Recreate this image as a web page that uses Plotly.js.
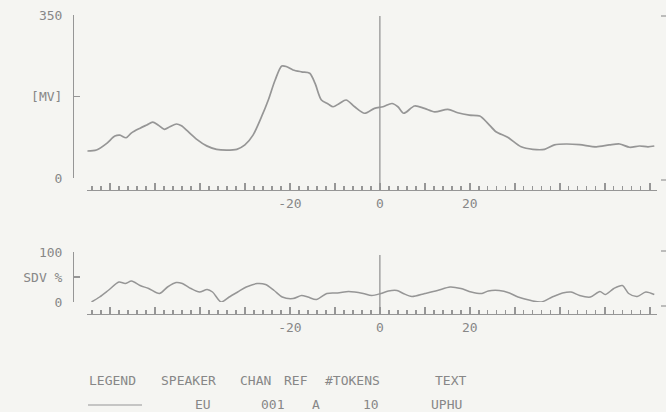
<!DOCTYPE html>
<html>
<head>
<meta charset="utf-8">
<script src="https://cdn.plot.ly/plotly-3.0.1.min.js"></script>
<style>html,body{margin:0;padding:0;background:#f5f5f2;}#chart{width:666px;height:412px;}</style>
</head>
<body>
<div id="chart"></div>
<script>
// Mean amplitude (top panel)
const xMean = [-65.0,-63.0,-60.7,-58.9,-57.8,-56.4,-55.2,-53.3,-51.8,-50.5,-49.3,-47.9,-46.7,-45.2,-44.1,-42.6,-40.7,-38.5,-36.3,-34.1,-31.8,-30.0,-28.2,-26.3,-24.8,-23.3,-21.8,-20.7,-19.3,-17.4,-15.6,-14.4,-13.0,-11.5,-10.4,-9.0,-7.5,-5.6,-3.4,-1.2,0.7,2.7,4.0,5.3,7.7,9.9,12.2,15.1,17.3,19.9,22.2,24.0,25.8,28.4,31.4,34.0,36.6,38.8,41.4,44.4,48.1,51.0,53.3,55.5,57.7,59.6,61.0];
const yMean = [58,60,74.5,90,92,86.5,97,107,114,120,114,104.5,110,116,112,99.4,83,69,61.6,60,61.6,71,92,131.6,167.5,210,240.5,239,232,228,225,203,167.5,159,153,160,167.5,153,139,149.6,153,160,153,139,154.6,149.6,142,147.5,140,135,133,117.4,99.4,87.4,67,61.6,61.6,71,73,71.5,67,71,73,66,68.7,67,68.7];
// Standard deviation % (bottom panel)
const xSdv = [-64.1,-62.3,-60.4,-58.0,-56.6,-55.2,-53.3,-51.4,-49.0,-47.2,-45.3,-43.9,-42.0,-40.1,-38.4,-37.2,-35.3,-33.5,-31.6,-29.7,-27.3,-25.4,-23.5,-21.7,-19.3,-17.4,-16.0,-14.1,-11.8,-9.4,-7.0,-5.6,-3.7,-1.8,0.2,1.9,3.8,5.2,7.1,10.0,12.8,15.6,18.0,20.3,22.7,24.1,26.5,28.8,30.7,33.6,35.9,38.3,40.6,42.5,44.4,46.8,48.9,50.1,52.0,53.9,55.3,57.2,59.1,61.0];
const ySdv = [0,10,23,40,37,42,33,27,17,30,39,37,27,20,25,20,0,10,20,30,37,35,23,10,7,13,10,5,17,18,21,20,17,13,17,22,23,17,11,17,23,30,27,20,17,22,23,18,10,3,0,10,18,20,13,10,21,15,27,33,17,11,20,15];

const topTickVals = [0, 175, 350];
const topTickText = ['0', '[MV]', '350'];
const botTickVals = [0, 50, 100];
const botTickText = ['0', 'SDV %', '100'];
const xTickVals = [-60,-50,-40,-30,-20,-10,0,10,20,30,40,50,60];
const xTickText = ['','','','','-20','','0','','20','','','',''];

const legendHeader = ['LEGEND','SPEAKER','CHAN','REF','#TOKENS','TEXT'];
const legendValues = ['EU','001','A','10','UPHU'];

const W = 666, H = 412;
const ink = '#878787';
const lineCol = '#969696';
const font = {family: 'DejaVu Sans Mono, monospace', size: 13, color: ink};
const px = v => v / W;
const py = v => (H - v) / H;

const xDomain = [px(87), px(657)];
const xRange = [-65.1, 61.6];

function xMinorAxis(pos) {
  return {
    domain: xDomain, range: xRange, anchor: 'free', position: pos,
    showline: true, linecolor: lineCol, linewidth: 1.3,
    showgrid: false, zeroline: false,
    tickmode: 'linear', tick0: 0, dtick: 2,
    ticks: 'inside', ticklen: 4, tickwidth: 1.3, tickcolor: lineCol,
    showticklabels: false, fixedrange: true
  };
}
function xMajorAxis(pos, over) {
  return {
    domain: xDomain, range: xRange, anchor: 'free', position: pos, overlaying: over,
    showline: false, showgrid: false, zeroline: false,
    tickmode: 'array', tickvals: xTickVals, ticktext: xTickText,
    ticks: 'inside', ticklen: 7, tickwidth: 1.5, tickcolor: lineCol,
    tickfont: font, ticklabelstandoff: 4, fixedrange: true
  };
}
function yAxis(dom, rng, vals, text) {
  return {
    domain: dom, range: rng, anchor: 'free', position: px(73),
    showline: true, linecolor: lineCol, linewidth: 1.3,
    showgrid: false, zeroline: false,
    tickmode: 'array', tickvals: vals, ticktext: text,
    ticks: 'inside', ticklen: 6, tickwidth: 1.3, tickcolor: lineCol,
    tickfont: font, ticklabelstandoff: 8, fixedrange: true
  };
}

const traces = [
  {x: xMean, y: yMean, xaxis: 'x', yaxis: 'y', type: 'scatter', mode: 'lines',
   line: {color: lineCol, width: 1.7, shape: 'spline', smoothing: 0.8}, hoverinfo: 'skip', showlegend: false},
  {x: xSdv, y: ySdv, xaxis: 'x2', yaxis: 'y2', type: 'scatter', mode: 'lines',
   line: {color: lineCol, width: 1.5, shape: 'spline', smoothing: 0.8}, hoverinfo: 'skip', showlegend: false},
  {x: [], y: [], xaxis: 'x3', yaxis: 'y', type: 'scatter', mode: 'lines', hoverinfo: 'skip', showlegend: false},
  {x: [], y: [], xaxis: 'x4', yaxis: 'y2', type: 'scatter', mode: 'lines', hoverinfo: 'skip', showlegend: false}
];

const headerX = [87, 159, 238, 282, 323, 433];
const valueX = [193, 259, 310, 361, 429];
const annotations = [];
legendHeader.forEach((t, i) => annotations.push({
  text: t, xref: 'paper', yref: 'paper', x: px(headerX[i]), y: py(380),
  xanchor: 'left', yanchor: 'middle', showarrow: false, font: font
}));
legendValues.forEach((t, i) => annotations.push({
  text: t, xref: 'paper', yref: 'paper', x: px(valueX[i]), y: py(404),
  xanchor: 'left', yanchor: 'middle', showarrow: false, font: font
}));

const shapes = [
  {type: 'line', xref: 'x', yref: 'paper', x0: 0, x1: 0, y0: py(190), y1: py(16), line: {color: lineCol, width: 1.3}},
  {type: 'line', xref: 'x2', yref: 'paper', x0: 0, x1: 0, y0: py(314), y1: py(255), line: {color: lineCol, width: 1.3}},
  {type: 'line', xref: 'paper', yref: 'paper', x0: px(88), x1: px(142), y0: py(405), y1: py(405), line: {color: lineCol, width: 1.2}},
  {type: 'line', xref: 'paper', yref: 'paper', x0: px(661), x1: 1, y0: py(16), y1: py(16), line: {color: lineCol, width: 1.2}},
  {type: 'line', xref: 'paper', yref: 'paper', x0: px(661), x1: 1, y0: py(180), y1: py(180), line: {color: lineCol, width: 1.2}},
  {type: 'line', xref: 'paper', yref: 'paper', x0: px(661), x1: 1, y0: py(251), y1: py(251), line: {color: lineCol, width: 1.2}},
  {type: 'line', xref: 'paper', yref: 'paper', x0: px(661), x1: 1, y0: py(306), y1: py(306), line: {color: lineCol, width: 1.2}}
];

const layout = {
  width: W, height: H,
  margin: {l: 0, r: 0, t: 0, b: 0, pad: 0},
  paper_bgcolor: '#f5f5f2', plot_bgcolor: 'rgba(0,0,0,0)',
  font: font, showlegend: false,
  xaxis: xMinorAxis(py(190)),
  xaxis3: xMajorAxis(py(190), 'x'),
  yaxis: yAxis([py(178), py(15)], [0, 350], topTickVals, topTickText),
  xaxis2: xMinorAxis(py(314)),
  xaxis4: xMajorAxis(py(314), 'x2'),
  yaxis2: yAxis([py(302), py(252)], [0, 100], botTickVals, botTickText),
  annotations: annotations,
  shapes: shapes
};

Plotly.newPlot('chart', traces, layout, {staticPlot: true, displayModeBar: false});
</script>
</body>
</html>
